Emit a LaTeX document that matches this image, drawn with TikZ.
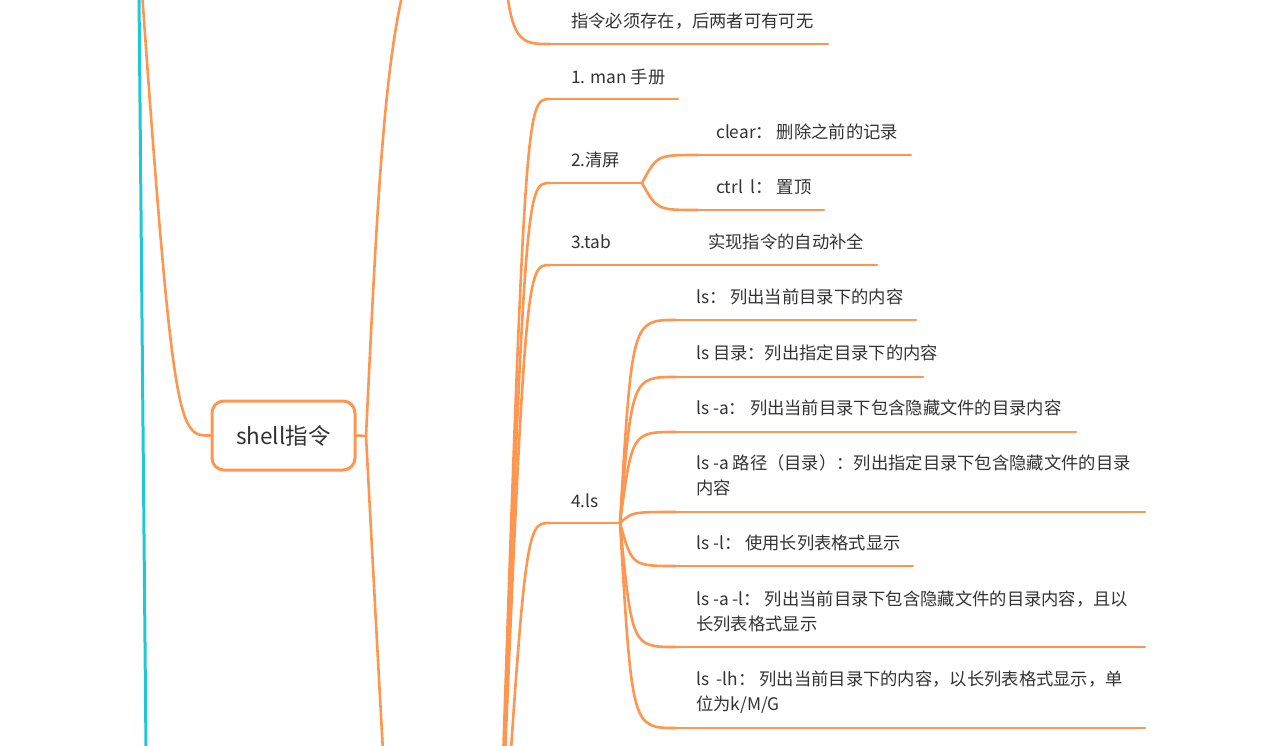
\documentclass[tikz,border=0pt]{standalone}
\usepackage{fontspec}
\setmainfont{Noto Sans CJK SC}
\definecolor{br}{RGB}{255,150,80}
\definecolor{cy}{RGB}{30,200,215}
\definecolor{tx}{RGB}{51,51,51}
\begin{document}
\begin{tikzpicture}[x=1pt,y=-1pt,
  conn/.style={draw=br,line width=2.6pt,line cap=round},
  txt/.style={anchor=west,inner sep=0pt,text=tx,font=\fontsize{17.3}{25}\selectfont,align=left}]
\useasboundingbox (0,0) rectangle (1278,745);
\clip (0,0) rectangle (1278,745);
\fill[white] (0,0) rectangle (1278,745);
% cyan line
\coordinate (cyT) at (139,-5);
\coordinate (cyB) at (146,750);
\draw[cy,line width=3pt] (cyT) -- (cyB);
% shell node
\node[draw=br,line width=3pt,rounded corners=12pt,fill=white,minimum width=143pt,minimum height=69pt,inner sep=0pt,text=tx,font=\fontsize{22.5}{27}\selectfont] (shell) at (283.5,435.5) {shell指令};
\coordinate (pUp) at (115,-400);
\draw[conn] (shell.west) .. controls (172,436) .. (pUp);
\coordinate (jS) at (366,436);
\draw[conn] (shell.east) -- (jS);
\coordinate (pTop) at (689,-150);
\coordinate (pBot) at (480,1300);
\draw[conn] (jS) .. controls (394,-150) .. (pTop);
\draw[conn] (jS) .. controls (412,1300) .. (pBot);
% top child
\coordinate (pA) at (498,-300);
\node[txt] (tA) at (571,21) {指令必须存在，后两者可有可无};
\coordinate (sA) at (550,44); \coordinate (eA) at (828,44);
\draw[conn] (sA) -- (eA);
\draw[conn] (pA) .. controls (503,44) .. (sA);
% parent of 1-4 (offscreen)
\coordinate (pB) at (495,1000);
% 1. man
\node[txt] (t1) at (571,77) {1. man 手册};
\coordinate (s1) at (550,99); \coordinate (e1) at (678,99);
\draw[conn] (s1) -- (e1);
\draw[conn] (pB) .. controls (525,99) .. (s1);
% 2. 清屏
\node[txt] (t2) at (571,160) {2.清屏};
\coordinate (s2) at (550,183); \coordinate (j2) at (642,183);
\draw[conn] (s2) -- (j2);
\draw[conn] (pB) .. controls (525,183) .. (s2);
\node[txt] (t2a) at (716,132) {clear： 删除之前的记录};
\coordinate (s2a) at (698,155); \coordinate (e2a) at (911,155);
\draw[conn] (s2a) -- (e2a);
\draw[conn] (j2) .. controls (657,155) .. (s2a);
\node[txt] (t2b) at (716,187) {ctrl\ \ l： 置顶};
\coordinate (s2b) at (698,210); \coordinate (e2b) at (824,210);
\draw[conn] (s2b) -- (e2b);
\draw[conn] (j2) .. controls (657,210) .. (s2b);
% 3. tab
\node[txt] (t3) at (571,242) {3.tab};
\coordinate (s3) at (550,265); \coordinate (j3) at (623,265);
\draw[conn] (s3) -- (j3);
\draw[conn] (pB) .. controls (525,265) .. (s3);
\node[txt] (t3a) at (708,242) {实现指令的自动补全};
\coordinate (e3a) at (877,265);
\draw[conn] (j3) -- (e3a);
% 4. ls
\node[txt] (t4) at (571,501) {4.ls};
\coordinate (s4) at (550,523); \coordinate (j4) at (620,523);
\draw[conn] (s4) -- (j4);
\draw[conn] (pB) .. controls (525,523) .. (s4);
\node[txt] (L1) at (696,297) {ls： 列出当前目录下的内容};
\coordinate (sL1) at (676,320); \coordinate (eL1) at (916,320);
\node[txt] (L2) at (696,353) {ls 目录：列出指定目录下的内容};
\coordinate (sL2) at (676,377); \coordinate (eL2) at (923,377);
\node[txt] (L3) at (696,408) {ls -a： 列出当前目录下包含隐藏文件的目录内容};
\coordinate (sL3) at (676,432); \coordinate (eL3) at (1076,432);
\node[txt] (L4) at (696,475.5) {ls -a 路径（目录）：列出指定目录下包含隐藏文件的目录\\内容};
\coordinate (sL4) at (676,512); \coordinate (eL4) at (1145,512);
\node[txt] (L5) at (696,543) {ls -l： 使用长列表格式显示};
\coordinate (sL5) at (676,566); \coordinate (eL5) at (913,566);
\node[txt] (L6) at (696,611) {ls -a -l： 列出当前目录下包含隐藏文件的目录内容，且以\\长列表格式显示};
\coordinate (sL6) at (676,647); \coordinate (eL6) at (1145,647);
\node[txt] (L7) at (696,692.5) {ls\ \ -lh： 列出当前目录下的内容，以长列表格式显示，单\\位为k/M/G};
\coordinate (sL7) at (676,728); \coordinate (eL7) at (1145,728);
\foreach \i in {1,...,7}{
  \draw[conn] (sL\i) -- (eL\i);
}
\draw[conn] (j4) .. controls (632,320) .. (sL1);
\draw[conn] (j4) .. controls (632,377) .. (sL2);
\draw[conn] (j4) .. controls (632,432) .. (sL3);
\draw[conn] (j4) .. controls (632,512) .. (sL4);
\draw[conn] (j4) .. controls (632,566) .. (sL5);
\draw[conn] (j4) .. controls (632,647) .. (sL6);
\draw[conn] (j4) .. controls (632,728) .. (sL7);
\end{tikzpicture}
\end{document}
